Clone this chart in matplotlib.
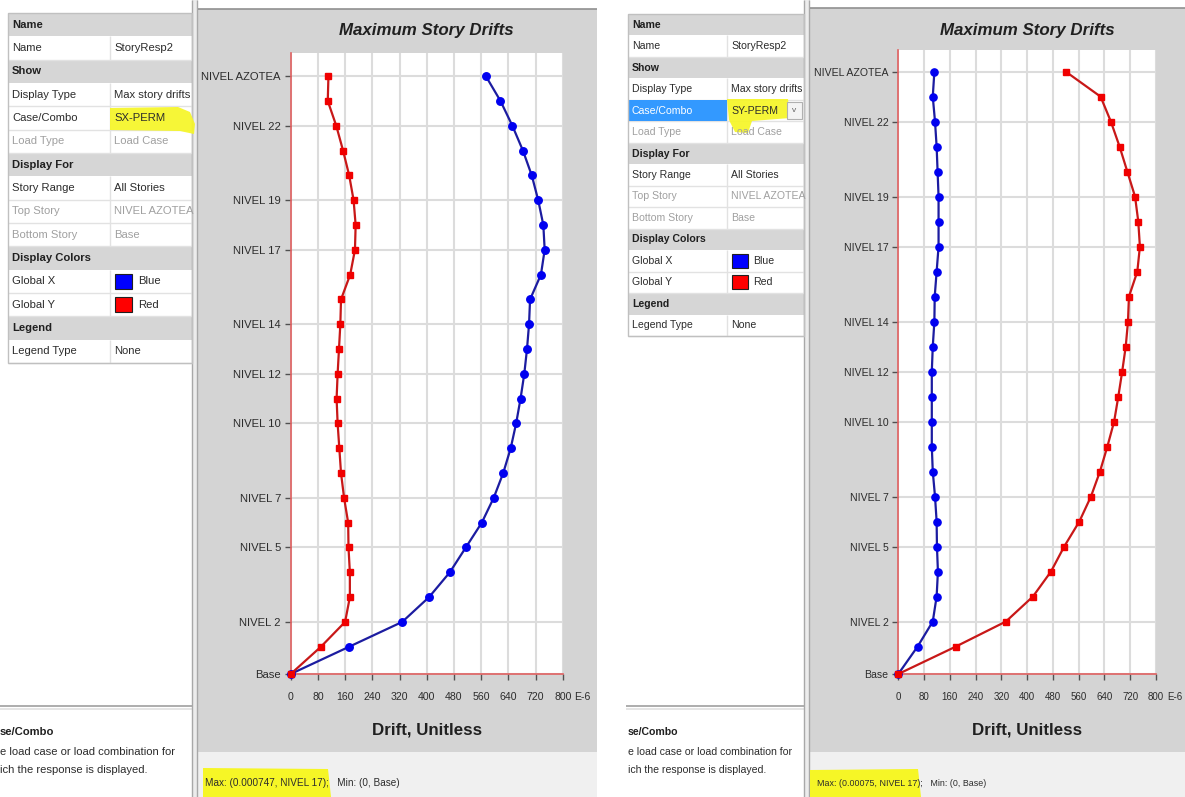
import matplotlib
matplotlib.use("Agg")
import matplotlib.pyplot as plt
from matplotlib import font_manager
from matplotlib.patches import Rectangle, Polygon
import numpy as np

# ---------------- data ----------------
stories = ["Base"] + [f"NIVEL {i}" for i in range(1, 24)] + ["NIVEL AZOTEA"]
story_heights = [3.3] + [3.0] * 24          # first story is taller
labeled_stories = ["Base", "NIVEL 2", "NIVEL 5", "NIVEL 7", "NIVEL 10", "NIVEL 12",
                   "NIVEL 14", "NIVEL 17", "NIVEL 19", "NIVEL 22", "NIVEL AZOTEA"]

# drifts in E-6, listed from Base to NIVEL AZOTEA
sx_global_x = [0, 172, 328, 407, 468, 515, 562, 597, 625, 647, 663, 676, 687, 695,
               701, 704, 736, 747, 743, 728, 709, 683, 652, 617, 574]
sx_global_y = [0, 89, 160, 174, 174, 170, 169, 157, 148, 143, 138, 135, 138, 142,
               146, 148, 175, 189, 191, 185, 172, 154, 134, 109, 111]
sy_global_x = [0, 60, 107, 119, 123, 120, 119, 114, 107, 104, 104, 104, 104, 107,
               112, 113, 119, 125, 125, 125, 122, 119, 114, 107, 112]
sy_global_y = [0, 179, 334, 418, 474, 515, 562, 598, 626, 649, 670, 683, 695, 706,
               713, 716, 742, 750, 745, 735, 711, 687, 660, 628, 520]

x_ticks = [0, 80, 160, 240, 320, 400, 480, 560, 640, 720, 800]

grid_rows = [("Name", None, "header"), ("Name", "StoryResp2", "row"),
             ("Show", None, "header"), ("Display Type", "Max story drifts", "row"),
             ("Case/Combo", "{case}", "row"), ("Load Type", "Load Case", "disabled"),
             ("Display For", None, "header"), ("Story Range", "All Stories", "row"),
             ("Top Story", "NIVEL AZOTEA", "disabled"), ("Bottom Story", "Base", "disabled"),
             ("Display Colors", None, "header"), ("Global X", "Blue", "swatch_b"),
             ("Global Y", "Red", "swatch_r"), ("Legend", None, "header"),
             ("Legend Type", "None", "row")]

# ---------------- fonts ----------------
available = {f.name for f in font_manager.fontManager.ttflist}
if "Liberation Sans Narrow" in available:
    FONT, SHRINK = "Liberation Sans Narrow", 1.0
else:
    FONT, SHRINK = "Liberation Sans", 0.84
plt.rcParams["font.family"] = [FONT, "DejaVu Sans"]


def fs(size):
    return size * SHRINK


W, H = 1185, 797
fig = plt.figure(figsize=(W / 100, H / 100), dpi=100, facecolor="white")
bg = fig.add_axes([0, 0, 1, 1])
bg.set_xlim(0, W)
bg.set_ylim(H, 0)
bg.axis("off")

PANEL = "#d4d4d4"
STRIP = "#f0f0f0"
TEXT = "#2c2c2c"


def rect(x0, y0, x1, y1, fc, ec="none", lw=0, z=1):
    bg.add_patch(Rectangle((x0, y0), x1 - x0, y1 - y0, facecolor=fc, edgecolor=ec,
                           linewidth=lw, zorder=z))


def hline(x0, x1, y, c, lw=1, z=2):
    bg.plot([x0, x1], [y, y], color=c, lw=lw, zorder=z, solid_capstyle="butt")


def vline(x, y0, y1, c, lw=1, z=2):
    bg.plot([x, x], [y0, y1], color=c, lw=lw, zorder=z, solid_capstyle="butt")


def draw_grid(x0, x1, xdiv, y0, y1, case, size, selected, ypoly):
    n = len(grid_rows)
    rh = (y1 - y0) / n
    for i, (label, value, kind) in enumerate(grid_rows):
        top = y0 + i * rh
        mid = top + rh / 2
        if kind == "header":
            rect(x0, top, x1, top + rh, "#d6d6d6", z=2)
            bg.text(x0 + 4, mid, label, fontsize=fs(size), fontweight="bold",
                    color="#202020", va="center", ha="left", zorder=6)
            continue
        rect(x0, top, x1, top + rh, "white", z=2)
        hline(x0, x1, top + rh, "#e2e2e2", 1, z=3)
        vline(xdiv, top, top + rh, "#e2e2e2", 1, z=3)
        lab_col = "#a0a0a0" if kind == "disabled" else TEXT
        if selected and label == "Case/Combo":
            rect(x0, top, xdiv, top + rh, "#3399ff", z=3)
            lab_col = "white"
        bg.text(x0 + 4, mid, label, fontsize=fs(size), color=lab_col,
                va="center", ha="left", zorder=6)
        val = value.format(case=case)
        if kind.startswith("swatch"):
            sw = "#0000ff" if kind == "swatch_b" else "#ff0000"
            s = rh * 0.66
            bg.add_patch(Rectangle((xdiv + 5, mid - s / 2), s * 1.1, s, facecolor=sw,
                                   edgecolor="#202020", lw=0.8, zorder=6))
            bg.text(xdiv + 5 + s * 1.1 + 6, mid, val, fontsize=fs(size), color=TEXT,
                    va="center", ha="left", zorder=6)
        else:
            vcol = "#a0a0a0" if kind == "disabled" else TEXT
            bg.text(xdiv + 4, mid, val, fontsize=fs(size), color=vcol,
                    va="center", ha="left", zorder=6)
        if selected and label == "Case/Combo":
            bx = x1 - 17
            rect(bx, top + 2, x1 - 2, top + rh - 2, "#f4f4f4", "#b0b0b0", 0.8, z=6)
            bg.text((bx + x1 - 2) / 2, mid, "v", fontsize=fs(size * 0.8), color="#606060",
                    va="center", ha="center", zorder=7)
    rect(x0, y0, x1, y1, "none", "#c0c0c0", 1, z=4)
    bg.add_patch(Polygon(ypoly, closed=True, facecolor="#f6f626", edgecolor="none",
                         alpha=0.92, zorder=5))


def draw_panel(px0, px1, top, case, max_txt, max_size, grid_box, size, selected, ypoly,
               bottom_poly, desc_x):
    # property pane and its description box
    gx0, gx1, gdiv, gy0, gy1 = grid_box
    draw_grid(gx0, gx1, gdiv, gy0, gy1, case, size, selected, ypoly)
    sep_x0 = desc_x - 2 if desc_x > 5 else 0
    hline(sep_x0, gx1, 706, "#a0a0a0", 1.2)
    hline(sep_x0, gx1, 709, "#e0e0e0", 1.2)
    bg.text(desc_x, 732, "se/Combo", fontsize=fs(size), fontweight="bold", color="#202020",
            va="center", ha="left", zorder=6)
    bg.text(desc_x, 752, "e load case or load combination for", fontsize=fs(size),
            color=TEXT, va="center", ha="left", zorder=6)
    bg.text(desc_x, 770, "ich the response is displayed.", fontsize=fs(size),
            color=TEXT, va="center", ha="left", zorder=6)
    # splitter
    rect(px0 - 6, 0, px0, H, "#ececec", z=1)
    vline(px0 - 6, 0, H, "#a8a8a8", 1)
    vline(px0 - 1, 0, H, "#a8a8a8", 1)
    # chart panel
    rect(px0, top, px1, 752, PANEL, z=1)
    rect(px0, 752, px1, H, STRIP, z=1)
    hline(px0, px1, top, "#909090", 1.2)
    bg.add_patch(Polygon(bottom_poly, closed=True, facecolor="#f6f626", edgecolor="none",
                         zorder=2))
    bg.text(px0 + 7, 783, max_txt, fontsize=fs(max_size), color=TEXT, va="center",
            ha="left", zorder=6)


def draw_chart(rect_px, series, ylabel_size, ytop, tick_size):
    x0, x1, ytop_px, ybase_px = rect_px
    ax = fig.add_axes([x0 / W, 1 - ybase_px / H, (x1 - x0) / W, (ybase_px - ytop_px) / H])
    ax.set_facecolor("white")
    elev = np.concatenate([[0], np.cumsum(story_heights[:len(stories) - 1])])
    for vals, line_c, mark_c, marker, ms in series:
        ax.plot(vals, elev, color=line_c, lw=1.6, marker=marker, ms=ms,
                mfc=mark_c, mec=mark_c, zorder=4, clip_on=False)
    ax.set_xlim(0, 800)
    ax.set_ylim(0, ytop)
    ax.set_xticks(x_ticks)
    ax.set_xticklabels([str(t) for t in x_ticks], fontsize=fs(tick_size), color=TEXT)
    idx = [stories.index(s) for s in labeled_stories]
    ax.set_yticks(elev[idx])
    ax.set_yticklabels(labeled_stories, fontsize=fs(ylabel_size), color=TEXT)
    ax.tick_params(axis="x", length=4, width=1, color="#505050", pad=9)
    ax.tick_params(axis="y", length=4, width=1, color="#505050", pad=3)
    ax.grid(True, color="#dcdcdc", lw=1.5, zorder=0)
    ax.set_axisbelow(True)
    for side in ("top", "right"):
        ax.spines[side].set_visible(False)
    for side in ("left", "bottom"):
        ax.spines[side].set_color("#e06060")
        ax.spines[side].set_linewidth(1.2)
    # unit suffix placed on the tick-label row, right after "800"
    bg.text(x1 + 11, 697, "E-6", fontsize=fs(tick_size), color=TEXT,
            ha="left", va="center", zorder=6)
    cx = (x0 + x1) / 2
    bg.text(cx, 30, "Maximum Story Drifts", fontsize=fs(14.5), fontweight="bold",
            fontstyle="italic", color="#202020", ha="center", va="center", zorder=6)
    bg.text(cx, 730, "Drift, Unitless", fontsize=fs(14.5), fontweight="bold",
            color="#202020", ha="center", va="center", zorder=6)
    return ax


BLUE_LINE, BLUE_MARK = "#1c1ca0", "#0000f0"
RED_LINE, RED_MARK = "#c81818", "#f00000"

# SX-PERM view
draw_panel(198, 597, 9, "SX-PERM", "Max: (0.000747, NIVEL 17);   Min: (0, Base)", 8.6,
           (8, 192, 110, 13, 363), 9.6, False,
           [(110, 108), (178, 107), (190, 112), (195, 124), (194, 134), (180, 131), (110, 130)],
           [(203, 768), (328, 769), (331, 797), (203, 797)], 0)
draw_chart((290.7, 562.7, 53, 674),
           [(sx_global_x, BLUE_LINE, BLUE_MARK, "o", 5.4),
            (sx_global_y, RED_LINE, RED_MARK, "s", 4.8)], 9.6, 75.1, 9.0)

# SY-PERM view
draw_panel(810, W + 5, 8, "SY-PERM", "Max: (0.00075, NIVEL 17);   Min: (0, Base)", 7.6,
           (628, 804, 727, 14, 336), 9.0, True,
           [(727, 99), (788, 99), (790, 118), (752, 121), (748, 133), (735, 132), (729, 120)],
           [(810, 770), (918, 769), (921, 797), (810, 797)], 628)
draw_chart((898.3, 1156, 50, 674),
           [(sy_global_x, BLUE_LINE, BLUE_MARK, "o", 5.2),
            (sy_global_y, RED_LINE, RED_MARK, "s", 4.6)], 9.0, 74.9, 8.4)

fig.savefig("out.png", dpi=100, facecolor="white")
